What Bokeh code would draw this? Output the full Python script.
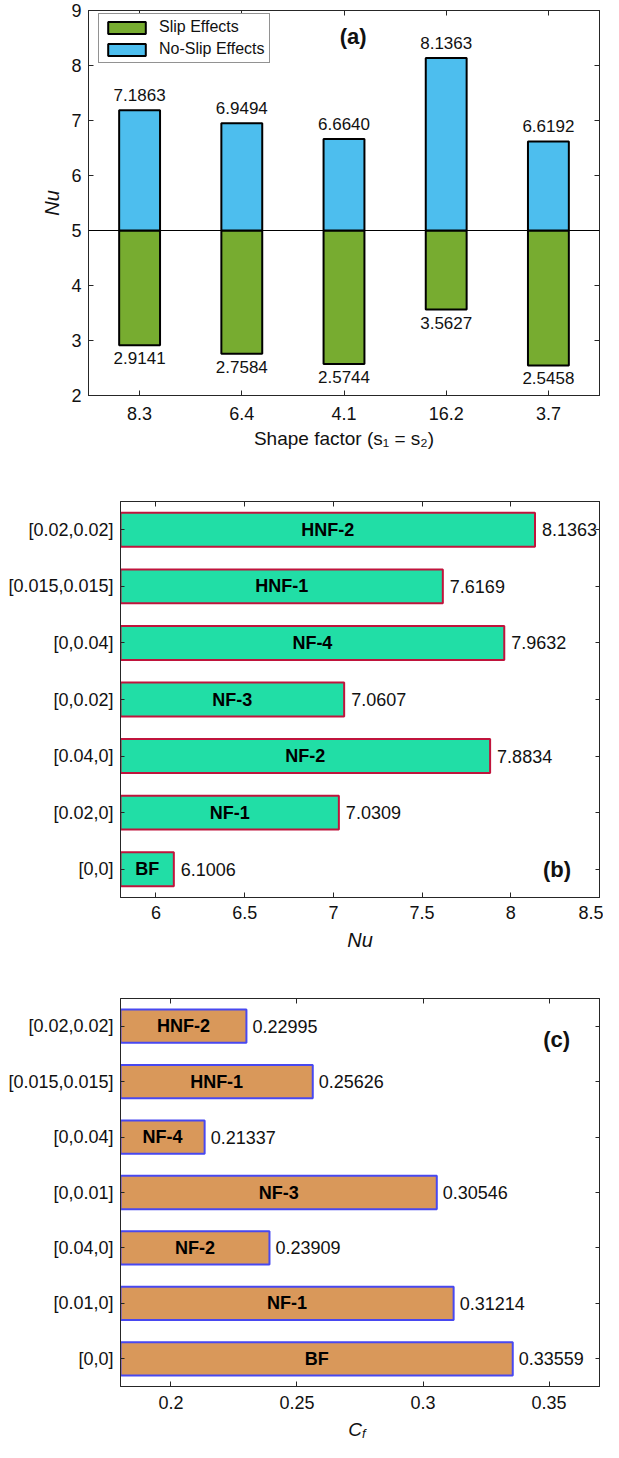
from bokeh.plotting import figure
from bokeh.models import (FactorRange, Range1d, LinearAxis, CategoricalAxis, FixedTicker,
                          Span, Label, CustomJSTickFormatter)
from bokeh.layouts import column
from bokeh.embed import file_html
from bokeh.resources import INLINE
from bokeh.core.properties import value

FONT = "Liberation Sans"
AX = "#262626"
TXT = "#111111"

# ---------------- data ----------------
# (a)
shape_factors = ["8.3", "6.4", "4.1", "16.2", "3.7"]
nu_no_slip = [7.1863, 6.9494, 6.6640, 8.1363, 6.6192]
nu_slip = [2.9141, 2.7584, 2.5744, 3.5627, 2.5458]
nu_reference = 5.0
nu_a_ticks = [2, 3, 4, 5, 6, 7, 8, 9]

# (b)
fluids = ["BF", "NF-1", "NF-2", "NF-3", "NF-4", "HNF-1", "HNF-2"]
phi_b = ["[0,0]", "[0.02,0]", "[0.04,0]", "[0,0.02]", "[0,0.04]", "[0.015,0.015]", "[0.02,0.02]"]
nu_b = [6.1006, 7.0309, 7.8834, 7.0607, 7.9632, 7.6169, 8.1363]
nu_b_ticks = [6, 6.5, 7, 7.5, 8, 8.5]

# (c)
phi_c = ["[0,0]", "[0.01,0]", "[0.04,0]", "[0,0.01]", "[0,0.04]", "[0.015,0.015]", "[0.02,0.02]"]
cf_c = [0.33559, 0.31214, 0.23909, 0.30546, 0.21337, 0.25626, 0.22995]
cf_ticks = [0.2, 0.25, 0.3, 0.35]

fmt = CustomJSTickFormatter(code="return Number(tick.toFixed(4)).toString();")


def style_axis(ax, standoff, size="18px", tick_in=5):
    ax.axis_line_color = AX
    ax.axis_line_width = 1
    ax.major_tick_line_color = AX
    ax.major_tick_in = tick_in
    ax.major_tick_out = 0
    ax.minor_tick_line_color = None
    ax.major_label_text_font = FONT
    ax.major_label_text_font_size = size
    ax.major_label_text_color = TXT
    ax.major_label_standoff = standoff
    ax.axis_label_text_font = FONT
    ax.axis_label_text_color = TXT


def hidden_axis(ax, tick_in=5):
    style_axis(ax, 0, size="0px", tick_in=tick_in)
    ax.major_label_text_alpha = 0


def base_fig(**kw):
    p = figure(output_backend="svg", toolbar_location=None, **kw)
    p.xgrid.visible = False
    p.ygrid.visible = False
    p.outline_line_color = AX
    p.background_fill_color = "white"
    try:
        p.frame_align = False
    except Exception:
        pass
    return p


# ---------------- (a) ----------------
pa = base_fig(width=603, height=470, x_range=FactorRange(factors=shape_factors),
              y_range=Range1d(2, 9), min_border_left=88, min_border_right=4,
              min_border_top=10, min_border_bottom=75)

pa.vbar(x=shape_factors, bottom=nu_slip, top=nu_reference, width=0.4,
        fill_color="#77AC30", line_color="black", line_width=2, legend_label="Slip Effects")
pa.vbar(x=shape_factors, bottom=nu_reference, top=nu_no_slip, width=0.4,
        fill_color="#4DBEEE", line_color="black", line_width=2, legend_label="No-Slip Effects")
pa.add_layout(Span(location=nu_reference, dimension="width", line_color="black", line_width=1))

pa.text(x=shape_factors, y=nu_no_slip, text=[f"{v:.4f}" for v in nu_no_slip],
        text_align="center", text_baseline="middle", y_offset=-15,
        text_font=value(FONT), text_font_size="17px", text_color=TXT)
pa.text(x=shape_factors, y=nu_slip, text=[f"{v:.4f}" for v in nu_slip],
        text_align="center", text_baseline="middle", y_offset=13,
        text_font=value(FONT), text_font_size="17px", text_color=TXT)

pa.yaxis.ticker = FixedTicker(ticks=nu_a_ticks)
style_axis(pa.xaxis[0], 11)
style_axis(pa.yaxis[0], 7)
pa.xaxis[0].axis_label = "Shape factor (s\u2081 = s\u2082)"
pa.xaxis[0].axis_label_text_font_size = "19px"
pa.xaxis[0].axis_label_text_font_style = "normal"
pa.xaxis[0].axis_label_standoff = 5
pa.yaxis[0].axis_label = "Nu"
pa.yaxis[0].axis_label_text_font_size = "20px"
pa.yaxis[0].axis_label_text_font_style = "italic"
pa.yaxis[0].axis_label_standoff = 5

ta = CategoricalAxis()
hidden_axis(ta)
pa.add_layout(ta, "above")
ra = LinearAxis(ticker=FixedTicker(ticks=nu_a_ticks))
hidden_axis(ra)
pa.add_layout(ra, "right")

leg = pa.legend[0]
leg.location = (10, 332)
leg.padding = 4
leg.spacing = 4
leg.glyph_width = 47
leg.glyph_height = 15
leg.label_height = 18
leg.label_standoff = 9
leg.label_text_font = FONT
leg.label_text_font_size = "16px"
leg.label_text_color = TXT
leg.border_line_color = AX
leg.border_line_width = 1
leg.background_fill_alpha = 1

pa.add_layout(Label(x=2.59, y=8.52, text="(a)", text_align="center", text_baseline="middle",
                    text_font=FONT, text_font_size="22px", text_font_style="bold", text_color=TXT))

# ---------------- (b) ----------------
xb0, xb1 = 5.8, 8.5
pb = base_fig(width=603, height=492, x_range=Range1d(xb0, xb1),
              y_range=FactorRange(factors=phi_b), min_border_left=120, min_border_right=4,
              min_border_top=31, min_border_bottom=65)
pb.hbar(y=phi_b, left=0, right=nu_b, height=0.6, fill_color="#21DEA6",
        line_color="#C0143C", line_width=2)
pb.text(x=[(xb0 + v) / 2 for v in nu_b], y=phi_b, text=fluids, text_align="center",
        text_baseline="middle", text_font=value(FONT), text_font_size="18px",
        text_font_style="bold", text_color="black")
pb.text(x=nu_b, y=phi_b, text=[f"{v:.4f}" for v in nu_b], x_offset=7, text_align="left",
        text_baseline="middle", text_font=value(FONT), text_font_size="18px", text_color=TXT)

pb.xaxis.ticker = FixedTicker(ticks=nu_b_ticks)
pb.xaxis.formatter = fmt
style_axis(pb.xaxis[0], 8)
style_axis(pb.yaxis[0], 7, tick_in=4)
pb.xaxis[0].axis_label = "Nu"
pb.xaxis[0].axis_label_text_font_size = "20px"
pb.xaxis[0].axis_label_text_font_style = "italic"
pb.xaxis[0].axis_label_standoff = 7

tb = LinearAxis(ticker=FixedTicker(ticks=nu_b_ticks))
hidden_axis(tb)
pb.add_layout(tb, "above")
rb = CategoricalAxis()
hidden_axis(rb, tick_in=4)
pb.add_layout(rb, "right")

pb.add_layout(Label(x=8.26, y=0.5, text="(b)", text_align="center", text_baseline="middle",
                    text_font=FONT, text_font_size="22px", text_font_style="bold", text_color=TXT))

# ---------------- (c) ----------------
xc0, xc1 = 0.18, 0.37
pc = base_fig(width=603, height=453, x_range=Range1d(xc0, xc1),
              y_range=FactorRange(factors=phi_c), min_border_left=120, min_border_right=4,
              min_border_top=36, min_border_bottom=29)
pc.hbar(y=phi_c, left=0, right=cf_c, height=0.6, fill_color="#D9985A",
        line_color="#4848F0", line_width=2)
pc.text(x=[(xc0 + v) / 2 for v in cf_c], y=phi_c, text=fluids, text_align="center",
        text_baseline="middle", text_font=value(FONT), text_font_size="18px",
        text_font_style="bold", text_color="black")
pc.text(x=cf_c, y=phi_c, text=[f"{v:.5f}" for v in cf_c], x_offset=6, text_align="left",
        text_baseline="middle", text_font=value(FONT), text_font_size="18px", text_color=TXT)

pc.xaxis.ticker = FixedTicker(ticks=cf_ticks)
pc.xaxis.formatter = fmt
style_axis(pc.xaxis[0], 9)
style_axis(pc.yaxis[0], 7, tick_in=4)

tc = LinearAxis(ticker=FixedTicker(ticks=cf_ticks))
hidden_axis(tc)
pc.add_layout(tc, "above")
rc = CategoricalAxis()
hidden_axis(rc, tick_in=4)
pc.add_layout(rc, "right")

pc.add_layout(Label(x=0.353, y=6.26, text="(c)", text_align="center", text_baseline="middle",
                    text_font=FONT, text_font_size="22px", text_font_style="bold", text_color=TXT))

# x-axis title of (c): C with subscript f, in a thin strip under the plot
cap = figure(output_backend="svg", toolbar_location=None, width=603, height=27,
             x_range=pc.x_range, y_range=Range1d(0, 1), x_axis_location=None,
             y_axis_location=None, min_border_left=120, min_border_right=4,
             min_border_top=0, min_border_bottom=0)
cap.xgrid.visible = False
cap.ygrid.visible = False
cap.outline_line_color = None
try:
    cap.frame_align = False
except Exception:
    pass
xmid = (xc0 + xc1) / 2
cap.text(x=[xmid], y=[0.5], text=["C"], x_offset=2, text_align="right", text_baseline="middle",
         text_font=value(FONT), text_font_size="19px", text_font_style="italic", text_color=TXT)
cap.text(x=[xmid], y=[0.32], text=["f"], x_offset=2, text_align="left", text_baseline="middle",
         text_font=value(FONT), text_font_size="13px", text_font_style="italic", text_color=TXT)

layout = column(pa, pb, pc, cap, spacing=0)
open("out.html", "w").write(file_html(layout, INLINE))
